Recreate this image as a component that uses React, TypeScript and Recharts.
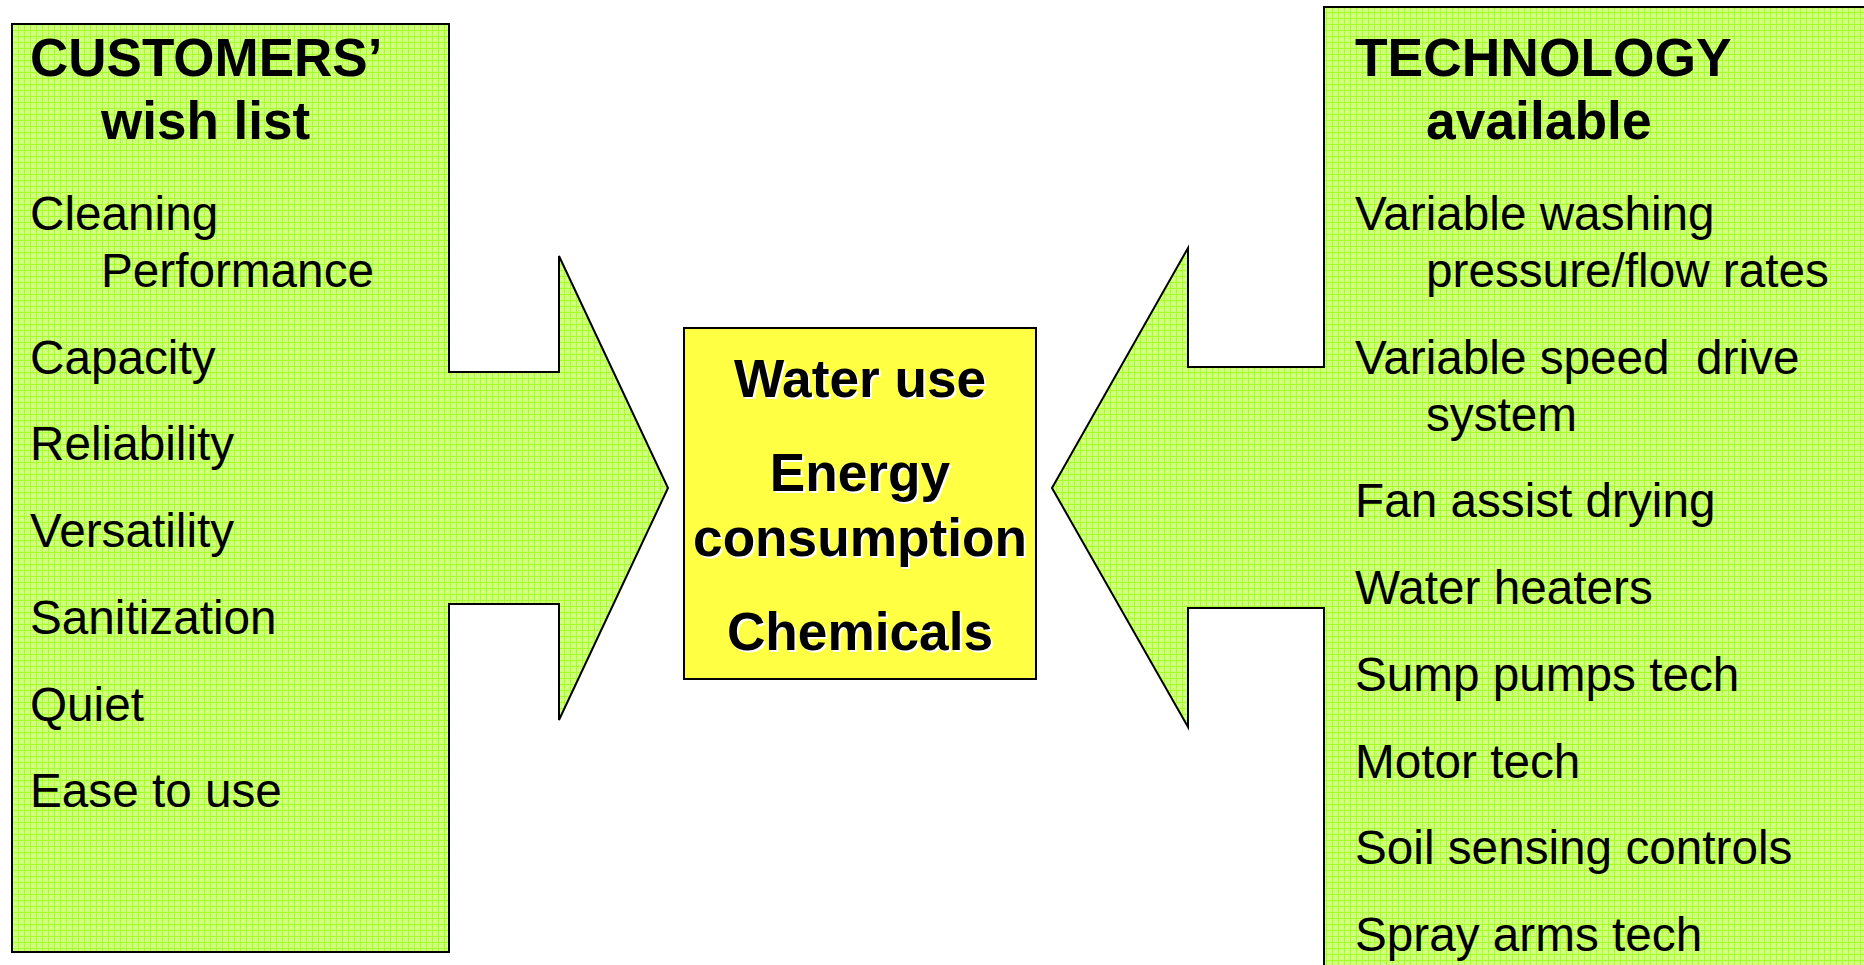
import * as React from "react"
import { ComposedChart, XAxis, YAxis, Scatter, ReferenceArea } from "recharts"

// ─── Data ────────────────────────────────────────────────────────────────────
const wishHeader = ["CUSTOMERS’", "wish list"]
const wishItems = [
  ["Cleaning", "Performance"],
  ["Capacity"],
  ["Reliability"],
  ["Versatility"],
  ["Sanitization"],
  ["Quiet"],
  ["Ease to use"],
]

const techHeader = ["TECHNOLOGY", "available"]
const techItems = [
  ["Variable washing", "pressure/flow rates"],
  ["Variable speed  drive", "system"],
  ["Fan assist drying"],
  ["Water heaters"],
  ["Sump pumps tech"],
  ["Motor tech"],
  ["Soil sensing controls"],
  ["Spray arms tech"],
]

const centerItems = [["Water use"], ["Energy", "consumption"], ["Chemicals"]]

// ─── Layout (diagram units = pixels of the 1864x965 canvas) ─────────────────
const W = 1864
const H = 965
const FONT = '"Liberation Sans", Arial, Helvetica, sans-serif'
const GREEN_STROKE = "#000"

const LEFT_SHAPE = {
  x1: 12, x2: 668, y1: 24, y2: 952,
  pts: [
    [12, 24], [449, 24], [449, 372], [559, 372], [559, 256], [668, 488],
    [559, 720], [559, 604], [449, 604], [449, 952], [12, 952],
  ],
}
const RIGHT_SHAPE = {
  x1: 1052, x2: 1880, y1: 7, y2: 980,
  pts: [
    [1324, 7], [1880, 7], [1880, 980], [1324, 980], [1324, 608], [1188, 608],
    [1188, 727], [1052, 488], [1188, 248], [1188, 367], [1324, 367],
  ],
}
const CENTER_BOX = { x1: 684, x2: 1036, y1: 328, y2: 679 }

type Row = { x: number; y: number; text: string }

function headerRows(lines: string[], x0: number, indent: number, top: number): Row[] {
  return lines.map((text, i) => ({ x: i === 0 ? x0 : x0 + indent, y: top + i * 63, text }))
}

function listRows(items: string[][], x0: number, indent: number, top: number, lineGap: number, itemGap: number): Row[] {
  const rows: Row[] = []
  let y = top
  items.forEach((lines, i) => {
    if (i > 0) y += itemGap
    lines.forEach((text, j) => {
      if (j > 0) y += lineGap
      rows.push({ x: j === 0 ? x0 : x0 + indent, y, text })
    })
  })
  return rows
}

const wishHeaderRows = headerRows(wishHeader, 30, 71, 76)
const techHeaderRows = headerRows(techHeader, 1355, 71, 76)
const wishRows = listRows(wishItems, 30, 71, 230, 57, 86.7)
const techRows = listRows(techItems, 1355, 71, 230, 57, 86.7)
const centerRows = listRows(centerItems, 860, 0, 397, 65, 94)

// ─── Shapes ──────────────────────────────────────────────────────────────────
function arrowPanel(def: typeof LEFT_SHAPE, withDefs: boolean) {
  return (props: any) => {
    const { x, y, width, height } = props
    const sx = (v: number) => x + ((v - def.x1) / (def.x2 - def.x1)) * width
    const sy = (v: number) => y + ((v - def.y1) / (def.y2 - def.y1)) * height
    const points = def.pts.map(([px, py]) => `${sx(px)},${sy(py)}`).join(" ")
    return (
      <g>
        {withDefs && (
          <defs>
            <pattern id="greenGrid" width={6} height={6} patternUnits="userSpaceOnUse">
              <rect width={6} height={6} fill="#cdff78" />
              <rect x={3} y={3} width={1} height={1} fill="#e2ffb0" />
              <rect x={1} y={4} width={1} height={1} fill="#e2ffb0" />
              <rect width={6} height={1} fill="#a6ff2a" />
              <rect width={1} height={6} fill="#a6ff2a" />
            </pattern>
          </defs>
        )}
        <polygon points={points} fill="url(#greenGrid)" stroke={GREEN_STROKE} strokeWidth={2} strokeLinejoin="miter" />
      </g>
    )
  }
}

function textMark(weight: "normal" | "bold", size: number, anchor: "start" | "middle", shadow: boolean) {
  return (props: any) => {
    const { cx, cy, payload } = props
    const common = {
      fontFamily: FONT,
      fontSize: size,
      fontWeight: weight,
      textAnchor: anchor,
      style: { whiteSpace: "pre" as const },
    }
    return (
      <g>
        {shadow && (
          <text x={cx + 2} y={cy + 2} fill="#ffffff" {...common}>
            {payload.text}
          </text>
        )}
        <text x={cx} y={cy} fill="#000000" {...common}>
          {payload.text}
        </text>
      </g>
    )
  }
}

// ─── Component ───────────────────────────────────────────────────────────────
export default function App() {
  return (
    <div style={{ position: "absolute", left: 0, top: 0, width: W, height: H, background: "#fff" }}>
      <ComposedChart width={W} height={H} margin={{ top: 0, right: 0, bottom: 0, left: 0 }}>
        <XAxis type="number" dataKey="x" domain={[0, W]} hide allowDataOverflow />
        <YAxis type="number" dataKey="y" domain={[0, H]} reversed hide allowDataOverflow />

        <ReferenceArea
          x1={LEFT_SHAPE.x1}
          x2={LEFT_SHAPE.x2}
          y1={LEFT_SHAPE.y1}
          y2={LEFT_SHAPE.y2}
          ifOverflow="visible"
          shape={arrowPanel(LEFT_SHAPE, true)}
        />
        <ReferenceArea
          x1={RIGHT_SHAPE.x1}
          x2={RIGHT_SHAPE.x2}
          y1={RIGHT_SHAPE.y1}
          y2={RIGHT_SHAPE.y2}
          ifOverflow="visible"
          shape={arrowPanel(RIGHT_SHAPE, false)}
        />
        <ReferenceArea
          x1={CENTER_BOX.x1}
          x2={CENTER_BOX.x2}
          y1={CENTER_BOX.y1}
          y2={CENTER_BOX.y2}
          ifOverflow="visible"
          fill="#ffff44"
          fillOpacity={1}
          stroke="#000"
          strokeWidth={2}
        />

        <Scatter data={wishHeaderRows} isAnimationActive={false} shape={textMark("bold", 53, "start", false)} />
        <Scatter data={techHeaderRows} isAnimationActive={false} shape={textMark("bold", 53.4, "start", false)} />
        <Scatter data={wishRows} isAnimationActive={false} shape={textMark("normal", 47.7, "start", false)} />
        <Scatter data={techRows} isAnimationActive={false} shape={textMark("normal", 47.7, "start", false)} />
        <Scatter data={centerRows} isAnimationActive={false} shape={textMark("bold", 53.2, "middle", true)} />
      </ComposedChart>
    </div>
  )
}
